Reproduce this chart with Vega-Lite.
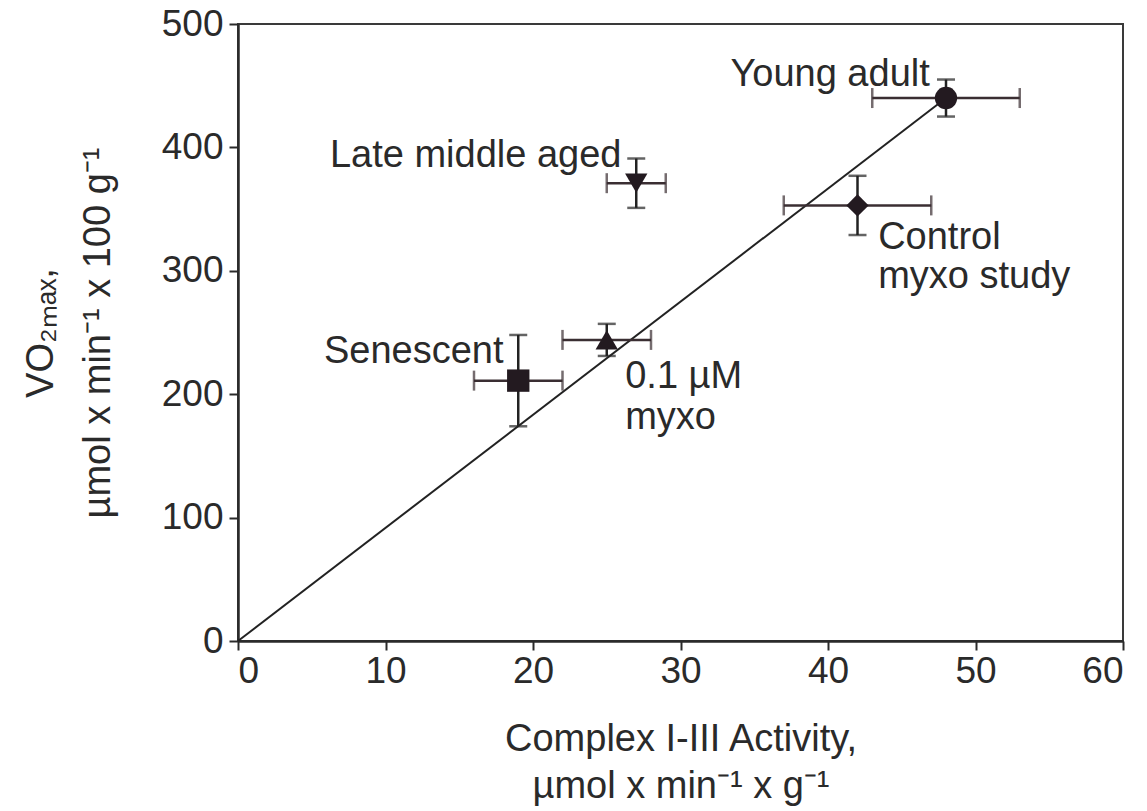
{
  "$schema": "https://vega.github.io/schema/vega-lite/v6.json",
  "width": 885,
  "height": 617,
  "autosize": "none",
  "padding": {"left": 238, "top": 24, "right": 24, "bottom": 170},
  "background": "white",
  "config": {
    "font": "Liberation Sans",
    "view": {"stroke": "#3a3a3a", "strokeWidth": 2},
    "axis": {
      "grid": false,
      "domainColor": "#2a2a2a",
      "domainWidth": 2.5,
      "tickColor": "#2a2a2a",
      "tickWidth": 2,
      "tickSize": 9,
      "labelFont": "Liberation Sans",
      "labelFontSize": 37,
      "labelColor": "#2a2a2a",
      "titleFont": "Liberation Sans",
      "titleFontSize": 38,
      "titleFontWeight": "normal",
      "titleColor": "#2a2a2a"
    }
  },
  "datasets": {
    "points": [
      {"group": "Young adult", "x": 48, "y": 440, "xlo": 43, "xhi": 53, "ylo": 425, "yhi": 455},
      {"group": "Control myxo study", "x": 42, "y": 353, "xlo": 37, "xhi": 47, "ylo": 329, "yhi": 377},
      {"group": "Late middle aged", "x": 27, "y": 371, "xlo": 25, "xhi": 29, "ylo": 351, "yhi": 391},
      {"group": "0.1 µM myxo", "x": 25, "y": 244, "xlo": 22, "xhi": 28, "ylo": 231, "yhi": 257},
      {"group": "Senescent", "x": 19, "y": 211, "xlo": 16, "xhi": 22, "ylo": 174, "yhi": 248}
    ],
    "fit": [
      {"x": 0, "y": 0},
      {"x": 48, "y": 440}
    ],
    "labelsRight": [
      {"text": "Young adult", "lx": 46.9, "ly": 450},
      {"text": "Late middle aged", "lx": 26.0, "ly": 384},
      {"text": "Senescent", "lx": 18.0, "ly": 225}
    ],
    "labelsLeft": [
      {"text": "0.1 µM", "lx": 26.25, "ly": 205},
      {"text": "myxo", "lx": 26.25, "ly": 172},
      {"text": "Control", "lx": 43.4, "ly": 318},
      {"text": "myxo study", "lx": 43.4, "ly": 286}
    ]
  },
  "layer": [
    {
      "data": {"name": "fit"},
      "mark": {"type": "line", "color": "#222", "strokeWidth": 2},
      "encoding": {
        "x": {
          "field": "x", "type": "quantitative",
          "scale": {"domain": [0, 60], "nice": false, "zero": true},
          "axis": {
            "values": [0, 10, 20, 30, 40, 50, 60],
            "labelPadding": 3,
            "title": ["Complex I-III Activity,", "µmol x min⁻¹ x g⁻¹"],
            "titlePadding": 31,
            "titleLineHeight": 47
          }
        },
        "y": {
          "field": "y", "type": "quantitative",
          "scale": {"domain": [0, 500], "nice": false},
          "axis": {
            "values": [0, 100, 200, 300, 400, 500],
            "labelPadding": 6,
            "title": ["VO₂ₘₐₓ,", "µmol x min⁻¹ x 100 g⁻¹"],
            "titlePadding": 44,
            "titleLineHeight": 57
          }
        }
      }
    },
    {
      "data": {"name": "points"},
      "mark": {"type": "rule", "color": "#3a2e32", "strokeWidth": 2.5},
      "encoding": {
        "x": {"field": "xlo", "type": "quantitative"},
        "x2": {"field": "xhi"},
        "y": {"field": "y", "type": "quantitative"}
      }
    },
    {
      "data": {"name": "points"},
      "mark": {"type": "rule", "color": "#222", "strokeWidth": 2.5},
      "encoding": {
        "x": {"field": "x", "type": "quantitative"},
        "y": {"field": "ylo", "type": "quantitative"},
        "y2": {"field": "yhi"}
      }
    },
    {
      "data": {"name": "points"},
      "mark": {"type": "tick", "orient": "vertical", "color": "#3a2e32", "size": 20, "thickness": 2.5},
      "encoding": {
        "x": {"field": "xlo", "type": "quantitative"},
        "y": {"field": "y", "type": "quantitative"}
      }
    },
    {
      "data": {"name": "points"},
      "mark": {"type": "tick", "orient": "vertical", "color": "#3a2e32", "size": 20, "thickness": 2.5},
      "encoding": {
        "x": {"field": "xhi", "type": "quantitative"},
        "y": {"field": "y", "type": "quantitative"}
      }
    },
    {
      "data": {"name": "points"},
      "mark": {"type": "tick", "orient": "horizontal", "color": "#222", "size": 18, "thickness": 2.5},
      "encoding": {
        "x": {"field": "x", "type": "quantitative"},
        "y": {"field": "ylo", "type": "quantitative"}
      }
    },
    {
      "data": {"name": "points"},
      "mark": {"type": "tick", "orient": "horizontal", "color": "#222", "size": 18, "thickness": 2.5},
      "encoding": {
        "x": {"field": "x", "type": "quantitative"},
        "y": {"field": "yhi", "type": "quantitative"}
      }
    },
    {
      "data": {"name": "points"},
      "mark": {"type": "point", "filled": true, "color": "#231a20", "opacity": 1, "strokeWidth": 0},
      "encoding": {
        "x": {"field": "x", "type": "quantitative"},
        "y": {"field": "y", "type": "quantitative"},
        "shape": {
          "field": "group", "type": "nominal",
          "scale": {
            "domain": ["Young adult", "Control myxo study", "Late middle aged", "0.1 µM myxo", "Senescent"],
            "range": ["circle", "diamond", "triangle-down", "triangle-up", "square"]
          },
          "legend": null
        },
        "size": {"value": 500}
      }
    },
    {
      "data": {"name": "labelsRight"},
      "mark": {"type": "text", "align": "right", "baseline": "alphabetic", "fontSize": 38, "color": "#2a2a2a", "font": "Liberation Sans"},
      "encoding": {
        "x": {"field": "lx", "type": "quantitative"},
        "y": {"field": "ly", "type": "quantitative"},
        "text": {"field": "text"}
      }
    },
    {
      "data": {"name": "labelsLeft"},
      "mark": {"type": "text", "align": "left", "baseline": "alphabetic", "fontSize": 38, "color": "#2a2a2a", "font": "Liberation Sans"},
      "encoding": {
        "x": {"field": "lx", "type": "quantitative"},
        "y": {"field": "ly", "type": "quantitative"},
        "text": {"field": "text"}
      }
    }
  ]
}
